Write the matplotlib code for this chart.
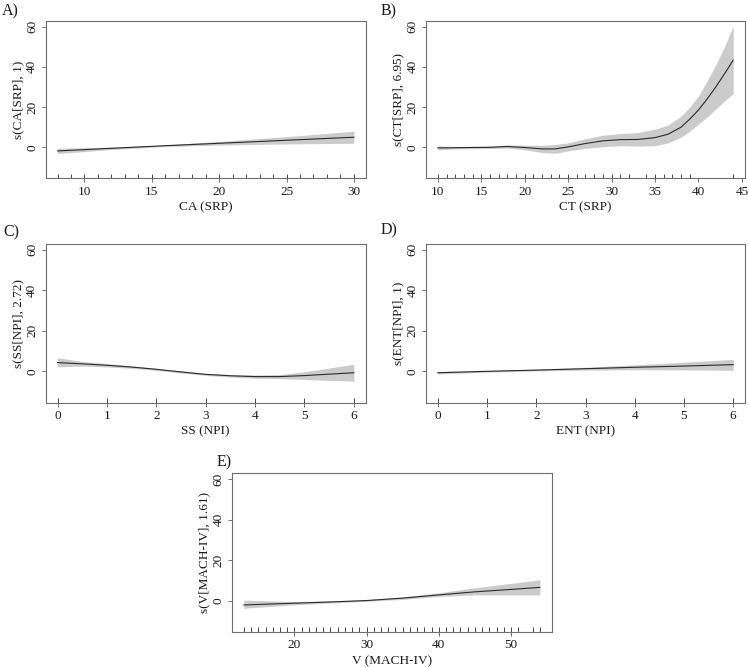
import matplotlib
matplotlib.use("Agg")
import matplotlib.pyplot as plt
import numpy as np

plt.rcParams["font.family"] = ["Liberation Serif", "DejaVu Serif"]
plt.rcParams["font.size"] = 9.5

# ── dados (efeitos suaves do GAM) ──────────────────────────────────────────
ca_x  = [8, 12, 16, 20, 25, 30]
ca_fit = [-1.8, -0.5, 0.8, 2.0, 3.5, 5.0]
ca_lo = [-3.1, -1.1, 0.4, 1.1, 1.7, 2.0]
ca_hi = [-0.5, 0.1, 1.2, 2.9, 5.3, 8.0]
ca_rug = list(range(8, 31))

ct_x  = [10, 12, 14, 16, 18, 20, 22, 23.5, 25, 27, 29, 31, 33, 35, 36.5, 38, 39, 40, 41, 42, 43, 44]
ct_fit = [-0.3, -0.2, -0.1, 0.0, 0.4, -0.1, -0.8, -0.8, 0.2, 1.9, 3.2, 3.8, 3.9, 4.8, 6.5, 10, 14, 18.5, 24, 30, 36.5, 43.3]
ct_lo = [-1.3, -0.8, -0.7, -0.6, -0.4, -1.2, -2.6, -3.0, -1.8, -0.5, 0.3, 0.8, 0.6, 0.8, 2.2, 5, 8, 11.5, 15, 19, 23, 26.7]
ct_hi = [0.7, 0.4, 0.5, 0.6, 1.2, 1.0, 1.0, 1.4, 2.2, 4.3, 6.0, 6.8, 7.3, 9.0, 11, 15.5, 20, 25.5, 33, 41, 50, 60]
ct_rug = list(range(10, 33)) + list(range(34, 40)) + [44]

ss_x  = [0, 0.5, 1, 1.5, 2, 2.5, 3, 3.5, 4, 4.5, 5, 5.5, 6]
ss_fit = [4.3, 3.7, 3.0, 2.1, 1.0, -0.3, -1.5, -2.2, -2.6, -2.6, -2.1, -1.4, -0.7]
ss_lo = [2.2, 2.6, 2.2, 1.5, 0.5, -0.8, -2.0, -2.8, -3.4, -3.6, -4.0, -4.5, -4.8]
ss_hi = [6.7, 4.9, 3.8, 2.7, 1.5, 0.2, -1.0, -1.6, -1.8, -1.6, -0.2, 1.6, 3.5]
ss_rug = [0, 1, 2, 3, 4, 5, 6]

ent_x  = [0, 1, 2, 3, 4, 5, 6]
ent_fit = [-0.7, 0.0, 0.6, 1.3, 2.0, 2.6, 3.3]
ent_lo = [-1.3, -0.4, 0.2, 0.6, 0.8, 0.7, 0.5]
ent_hi = [-0.1, 0.4, 1.1, 2.0, 3.2, 4.5, 5.9]
ent_rug = [0, 1, 2, 3, 4, 5, 6]

v_x  = [13, 20, 25, 30, 35, 40, 45, 50, 54]
v_fit = [-2.2, -1.3, -0.7, 0.0, 1.2, 2.8, 4.3, 5.5, 6.5]
v_lo = [-3.8, -2.1, -1.2, -0.4, 0.6, 2.0, 2.8, 2.8, 2.8]
v_hi = [0.2, -0.5, -0.2, 0.4, 1.8, 3.8, 6.3, 8.5, 10.3]
v_rug = list(range(13, 52)) + [53, 54]

painel = [
    ("A)", "CA (SRP)", "s(CA[SRP], 1)", ca_x, ca_fit, ca_lo, ca_hi, ca_rug, [10, 15, 20, 25, 30]),
    ("B)", "CT (SRP)", "s(CT[SRP], 6.95)", ct_x, ct_fit, ct_lo, ct_hi, ct_rug, [10, 15, 20, 25, 30, 35, 40, 45]),
    ("C)", "SS (NPI)", "s(SS[NPI], 2.72)", ss_x, ss_fit, ss_lo, ss_hi, ss_rug, [0, 1, 2, 3, 4, 5, 6]),
    ("D)", "ENT (NPI)", "s(ENT[NPI], 1)", ent_x, ent_fit, ent_lo, ent_hi, ent_rug, [0, 1, 2, 3, 4, 5, 6]),
    ("E)", "V (MACH-IV)", "s(V[MACH-IV], 1.61)", v_x, v_fit, v_lo, v_hi, v_rug, [20, 30, 40, 50]),
]

W, H = 748, 667
# caixas em pixels: esquerda, topo, direita, base
caixas = [
    (45.7, 20.7, 365.7, 178.3),
    (426.0, 20.7, 745.0, 178.3),
    (45.7, 244.0, 365.7, 402.5),
    (426.0, 244.0, 745.0, 402.5),
    (232.0, 473.3, 551.7, 631.7),
]
rotulo_pos = [(2, 3), (381, 3), (3, 224), (381, 222), (217, 454)]

fig = plt.figure(figsize=(W / 100, H / 100), dpi=100)
cor_eixo = "#6e6e6e"
cor_texto = "#1a1a1a"

for (letra, xlab, ylab, x, fit, lo, hi, rug, xt), (l, t, r, b), (px, py) in zip(painel, caixas, rotulo_pos):
    ax = fig.add_axes([l / W, 1 - b / H, (r - l) / W, (b - t) / H])
    ax.fill_between(x, lo, hi, color="#cbcbcb", linewidth=0)
    ax.plot(x, fit, color="#2a2a2a", linewidth=0.8)
    ax.vlines(rug, 0, 0.03, transform=ax.get_xaxis_transform(), color="#444444", linewidth=0.7)

    span = max(x) - min(x)
    ax.set_xlim(min(x) - 0.04 * span, max(x) + 0.04 * span)
    ax.set_ylim(-15.4, 62.9)
    ax.set_xticks(xt)
    ax.set_yticks([0, 20, 40, 60])
    for sp in ax.spines.values():
        sp.set_color(cor_eixo)
        sp.set_linewidth(0.8)
    ax.tick_params(colors=cor_eixo, labelcolor=cor_texto, length=3, width=0.7, pad=2.5)
    for lab in ax.get_yticklabels():
        lab.set_rotation(90)
        lab.set_va("center")
    ax.set_xlabel(xlab, fontsize=9.5, labelpad=2.5, color=cor_texto)
    ax.set_ylabel(ylab, fontsize=9.5, labelpad=1.5, color=cor_texto)
    fig.text(px / W, 1 - py / H, letra, fontsize=11.5, ha="left", va="top", color=cor_texto)

fig.savefig("out.png", dpi=100)
